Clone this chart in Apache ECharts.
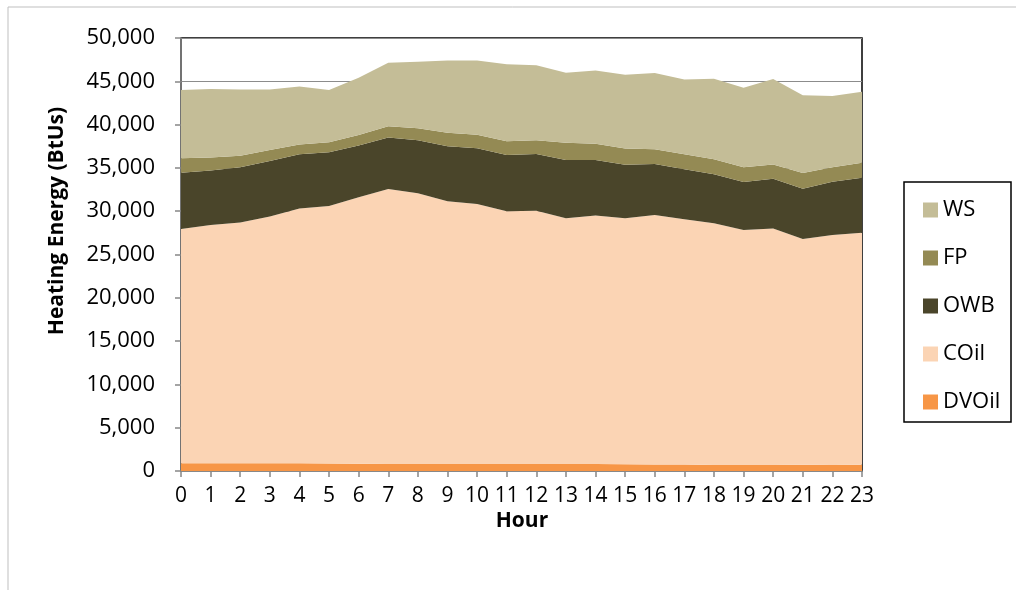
<!DOCTYPE html>
<html>
<head>
<meta charset="utf-8">
<script src="https://cdn.jsdelivr.net/npm/echarts@6/dist/echarts.min.js"></script>
<style>
  html, body { margin: 0; padding: 0; background: #fff; }
  #chart { width: 1016px; height: 590px; }
</style>
</head>
<body>
<div id="chart"></div>
<script>
// hours on the x axis
var hours = ['0','1','2','3','4','5','6','7','8','9','10','11','12','13','14','15','16','17','18','19','20','21','22','23'];
// heating energy by source (BtUs)
var dvOil = [900,900,900,900,900,880,850,820,800,800,800,800,820,800,800,780,760,740,700,680,700,720,700,720];
var cOil  = [27040,27500,27800,28500,29400,29720,30750,31740,31270,30340,30030,29200,29240,28400,28700,28420,28800,28320,27900,27150,27300,26080,26550,26780];
var owb   = [6510,6300,6370,6400,6270,6200,6000,5940,6130,6360,6430,6500,6540,6700,6400,6150,5890,5780,5660,5540,5750,5800,6150,6370];
var fp    = [1650,1500,1330,1270,1130,1150,1200,1300,1370,1570,1580,1570,1600,2000,1900,1880,1700,1730,1740,1700,1650,1800,1670,1730];
var ws    = [7900,7900,7650,6980,6700,6050,6600,7350,7700,8330,8560,8890,8650,8100,8450,8520,8800,8630,9300,9190,9870,9000,8230,8200];

var colors = {
    DVOil: '#F79646',
    COil: '#FBD4B4',
    OWB: '#4A452A',
    FP: '#948A54',
    WS: '#C4BD97'
};
var font = '"Open Sans", sans-serif';

function areaSeries(name, data) {
    return {
        name: name,
        type: 'line',
        stack: 'energy',
        data: data,
        symbol: 'none',
        lineStyle: { width: 0 },
        areaStyle: { color: colors[name], opacity: 1 },
        itemStyle: { color: colors[name] }
    };
}

var myChart = echarts.init(document.getElementById('chart'));
var option = {
    animation: false,
    backgroundColor: '#fff',
    grid: {
        left: 181,
        top: 38,
        right: 154,
        bottom: 119,
        show: true,
        borderColor: '#000',
        borderWidth: 1.5
    },
    legend: {
        orient: 'vertical',
        left: 918,
        top: 194,
        itemWidth: 15,
        itemHeight: 15,
        itemGap: 26,
        itemTextGap: 7,
        icon: 'rect',
        data: ['WS', 'FP', 'OWB', 'COil', 'DVOil'],
        textStyle: { fontFamily: font, fontSize: 22, color: '#000', lineHeight: 22 }
    },
    xAxis: {
        type: 'category',
        data: hours,
        boundaryGap: false,
        axisLine: { lineStyle: { color: '#868686', width: 1.5 } },
        axisTick: { show: true, length: 6, lineStyle: { color: '#868686', width: 1.5 } },
        axisLabel: { fontFamily: font, fontSize: 21, color: '#000', margin: 15, interval: 0 },
        splitLine: { show: false }
    },
    yAxis: {
        type: 'value',
        min: 0,
        max: 50000,
        interval: 5000,
        axisLine: { show: true, lineStyle: { color: '#868686', width: 1.5 } },
        axisTick: { show: true, length: 6, lineStyle: { color: '#868686', width: 1.5 } },
        axisLabel: {
            fontFamily: font, fontSize: 22, color: '#000', margin: 26,
            formatter: function (v) { return v.toLocaleString('en-US'); }
        },
        splitLine: { show: true, lineStyle: { color: '#8c8c8c', width: 1.2 } }
    },
    graphic: [
        {
            type: 'rect',
            shape: { x: 8, y: 7, width: 1100, height: 700 },
            style: { fill: 'none', stroke: '#BFBFBF', lineWidth: 1 },
            silent: true
        },
        {
            type: 'rect',
            shape: { x: 904, y: 182, width: 107, height: 240 },
            style: { fill: 'none', stroke: '#000', lineWidth: 1.5 },
            silent: true
        },
        {
            type: 'text',
            x: 57, y: 221,
            rotation: Math.PI / 2,
            style: {
                text: 'Heating Energy (BtUs)',
                fontFamily: font, fontSize: 21, fontWeight: 'bold',
                fill: '#000', align: 'center', verticalAlign: 'middle'
            }
        },
        {
            type: 'text',
            x: 522, y: 521,
            style: {
                text: 'Hour',
                fontFamily: font, fontSize: 21, fontWeight: 'bold',
                fill: '#000', align: 'center', verticalAlign: 'middle'
            }
        }
    ],
    series: [
        areaSeries('DVOil', dvOil),
        areaSeries('COil', cOil),
        areaSeries('OWB', owb),
        areaSeries('FP', fp),
        areaSeries('WS', ws)
    ]
};
myChart.setOption(option);
</script>
</body>
</html>
